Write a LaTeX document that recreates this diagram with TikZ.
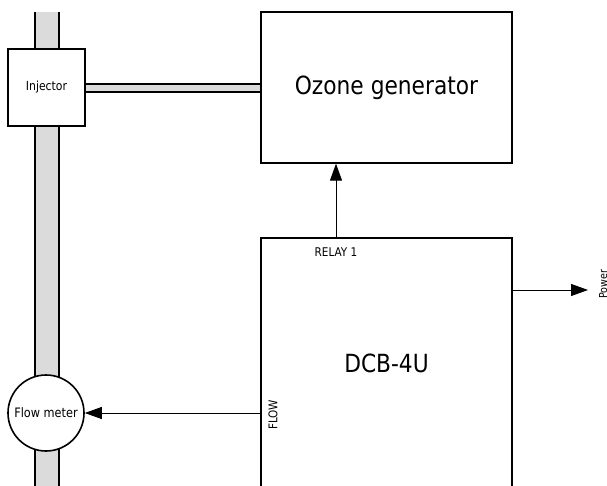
\documentclass[tikz,border=0pt]{standalone}
\usepackage{fontspec}
\setmainfont{DejaVu Sans}[FakeStretch=0.87]
\usepackage{tikz}
\usetikzlibrary{arrows.meta,positioning,calc}

\begin{document}
\begin{tikzpicture}[x=1pt,y=-1pt,>={Triangle[length=17pt,width=12pt]},
  box/.style={draw,line width=1.3pt,fill=white,align=center,inner sep=0pt},
  lbl/.style={inner sep=0pt,font=\fontsize{12}{14}\selectfont},
  arr/.style={->,line width=1pt},
  pipe/.style={draw=black,line width=2pt,double=black!14,line cap=butt}]
\useasboundingbox (0,0) rectangle (607,486);
% pipe through injector and flow meter
\coordinate (ptop) at (47,12);
\coordinate (pbot) at (47,500);
\draw[pipe,double distance=22pt] (ptop) -- (pbot);
\node[box,minimum width=77pt,minimum height=77pt,font=\fontsize{12.5}{14}\selectfont] (inj) at (46.5,87.5) {Injector};
\node[box,circle,line width=1.6pt,minimum size=76pt,font=\fontsize{13}{15}\selectfont] (fm) at (46,413) {Flow meter};
\node[box,minimum width=251pt,minimum height=151pt,font=\fontsize{25}{30}\selectfont] (ozone) at (386.5,87.5) {Ozone generator};
\node[box,minimum width=251pt,minimum height=250pt,font=\fontsize{25}{30}\selectfont] (dcb) at (386.5,363) {DCB-4U};
\draw[pipe,double distance=6pt] (inj.east |- 0,88) -- (ozone.west |- 0,88);
% labels on the controller
\node[lbl] (relay) at (336,252.5) {RELAY 1};
\node[lbl,rotate=90] (flow) at (273,415) {FLOW};
\coordinate (pwr) at (588,290);
\node[inner sep=0pt,rotate=90,anchor=north,font=\fontsize{11}{13}\selectfont] (power) at (599,284) {Power};
\draw[arr] (dcb.north -| relay) -- (ozone.south -| relay);
\draw[arr] (pwr -| dcb.east) -- (pwr);
\draw[arr] (dcb.west |- fm) -- (fm.east);
\end{tikzpicture}
\end{document}
